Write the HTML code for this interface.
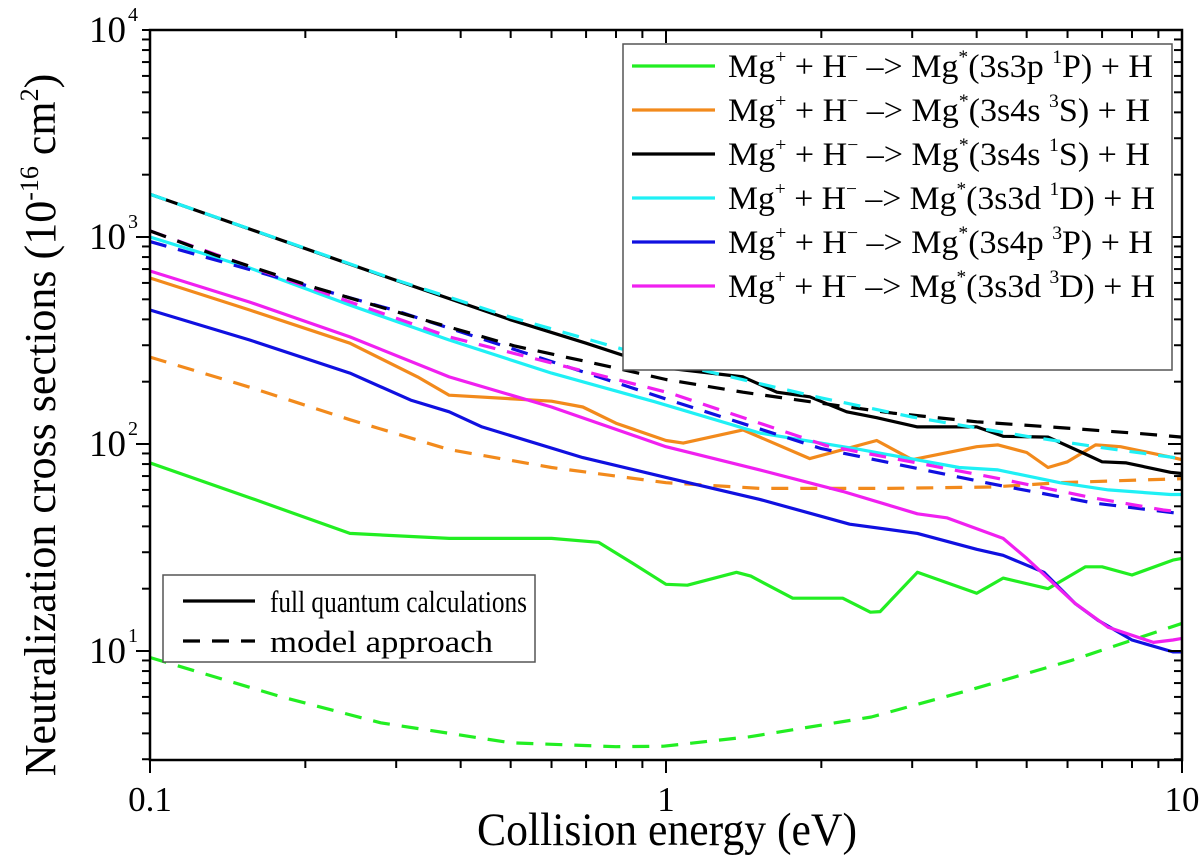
<!DOCTYPE html>
<html><head><meta charset="utf-8"><style>
body{margin:0;background:#fff;}
svg{display:block;font-family:"Liberation Serif",serif;}
</style></head><body>
<svg id="chart" width="1200" height="856" viewBox="0 0 1200 856"></svg>
<script>
const energies = {
 greenF:[0.1,0.156,0.244,0.38,0.6,0.74,0.86,1.0,1.1,1.37,1.46,1.76,2.2,2.49,2.6,3.07,4.0,4.5,5.5,6.5,7,8,9.6,10],
 greenM:[0.1,0.18,0.28,0.5,0.8,0.99,1.45,2.5,3.9,6.1,10],
 orangeF:[0.1,0.156,0.244,0.33,0.38,0.51,0.6,0.69,0.8,1.0,1.08,1.41,1.9,2.56,3.0,4.0,4.4,5.0,5.5,6.0,6.8,7.6,9.6,10],
 orangeM:[0.1,0.156,0.244,0.38,0.6,1.0,1.52,2.7,4.3,5.8,8.3,10],
 blackF:[0.1,0.3,0.5,0.7,0.97,1.41,1.64,1.9,2.24,2.56,3.07,4.0,4.5,5.5,6.4,7.0,7.8,9.5,10],
 blackM:[0.1,0.134,0.21,0.33,0.51,0.8,1.0,1.41,1.9,2.75,4,5.8,8.4,10],
 cyanF:[0.1,0.156,0.244,0.38,0.6,0.95,1.52,2.38,3.7,4.4,5.8,7.2,9.5,10],
 cyanM:[0.1,0.3,0.5,1,1.5,2,3,5,7,10],
 blueF:[0.1,0.156,0.244,0.32,0.38,0.44,0.69,1.0,1.52,2.27,3.07,4.0,4.5,5.4,6.2,6.9,8.0,9.6,10],
 blueM:[0.1,0.3,1,2,4.3,6.7,10],
 magF:[0.1,0.156,0.244,0.38,0.6,1.0,1.52,2.2,3.07,3.5,4.5,5.0,6.2,7.2,8.8,9.6,10],
 magM:[0.1,0.156,0.38,1.02,2.05,4.3,6.7,9.2,10]
};
const values = {
 greenF:[81,55,37,35,35,33.5,26.6,21,20.8,24,23,18,18,15.4,15.5,24,19,22.5,20,25.5,25.5,23.3,27.5,28],
 greenM:[9.3,6.0,4.5,3.6,3.45,3.47,3.85,4.8,6.5,9.0,13.6],
 orangeF:[634,444,307,211,172,165,161,151,126,104,101,117,85,104,84,97,99,91,77,82,99,97,86,84],
 orangeM:[263,188,131,94,77,65,61,61,62,65,67,68],
 blackF:[1610,617,398,307,235,211,178,169,143,134,121,121,109,108,91,82,81,73,72],
 blackM:[1070,818,567,406,297,233,205,178,160,141,128,120,112,108],
 cyanF:[1000,708,469,318,220,160,113,94,77,75,65,60,57,57],
 cyanM:[1610,620,410,250,197,167,135,109,96,85],
 blueF:[444,318,220,163,143,121,86,69,54,41,37,31,29,24,17,14,11.3,9.9,9.9],
 blueM:[950,440,165,95,64,52,46],
 magF:[685,485,329,211,151,97,75,59,46,44,35,28,17,13,11,11.3,11.5],
 magM:[1070,720,329,176,98,69,55,48,47]
};
const seriesKeys = ['orangeM','greenM','greenF','orangeF','blueF','magF','cyanF','blackF','blueM','magM','blackM','cyanM'];
const colors = {green:'#22ee22',orange:'#f28a1c',black:'#000',cyan:'#1ff0f5',blue:'#1010e0',mag:'#f020f0'};
const xTicks = [0.1,1,10];
const xTickLabels = ['0.1','1','10'];
const yExps = [1,2,3,4];

const L=150,R=1182,T=30,B=760;
const X=e=>666+516*Math.log10(e);
const Y=v=>651-207*(Math.log10(v)-1);
const svg=document.getElementById('chart');
const NS='http://www.w3.org/2000/svg';
function mk(tag,attrs,parent){const el=document.createElementNS(NS,tag);for(const k in attrs)el.setAttribute(k,attrs[k]);(parent||svg).appendChild(el);return el;}

const clip=mk('clipPath',{id:'pc'});mk('rect',{x:L,y:T,width:R-L,height:B-T},clip);
const g=mk('g',{'clip-path':'url(#pc)'});


seriesKeys.forEach(k=>{
  const col=colors[k.replace(/[FM]$/,'')];
  const dashed=k.endsWith('M');
  const d=energies[k].map((e,i)=>(i?'L':'M')+X(e).toFixed(1)+','+Y(values[k][i]).toFixed(1)).join('');
  const p=mk('path',{d:d,fill:'none',stroke:col,'stroke-width':3.2,'stroke-linejoin':'round'},g);
  if(dashed)p.setAttribute('stroke-dasharray','17,12');
  
  
});

const frame=mk('rect',{x:L,y:T,width:R-L,height:B-T,fill:'none',stroke:'#000','stroke-width':2.5});



for(let d=-1;d<1;d++){for(let m=1;m<=10;m++){const e=m*Math.pow(10,d);const x=X(e);const major=(m===1||m===10);
  mk('line',{x1:x,x2:x,y1:B,y2:B+(major?13:8),stroke:'#000','stroke-width':2});
  mk('line',{x1:x,x2:x,y1:T,y2:T+(major?13:8),stroke:'#000','stroke-width':2});}}
xTicks.forEach((e,i)=>{const t=mk('text',{x:X(e),y:811,'font-size':35,'text-anchor':'middle'});t.textContent=xTickLabels[i];
  
  });
const ymin=Math.pow(10,1-(B-651)/207);
for(let d=0;d<4;d++){for(let m=1;m<=10;m++){const v=m*Math.pow(10,d);if(v<ymin-1e-9)continue;const y=Y(v);if(y<T-0.5)continue;const major=(m===1);
  mk('line',{x1:L,x2:L-(major?14:8),y1:y,y2:y,stroke:'#000','stroke-width':2});
  mk('line',{x1:R,x2:R-(major?14:8),y1:y,y2:y,stroke:'#000','stroke-width':2});}}
yExps.forEach(p=>{const t=mk('text',{x:126,y:Y(Math.pow(10,p))+12,'font-size':37,'text-anchor':'end'});t.textContent='10';
  
  
  const s=mk('text',{x:128,y:Y(Math.pow(10,p))-9,'font-size':20});s.textContent=String(p);});
</script>
<svg width="1200" height="856" style="position:absolute;left:0;top:0;font-family:'Liberation Serif',serif">
 <text x="477" y="845" font-size="47" textLength="380" lengthAdjust="spacingAndGlyphs">Collision energy (eV)</text>
 <text transform="translate(55,425) rotate(-90)" font-size="44" text-anchor="middle">Neutralization cross sections (10<tspan font-size="26" dy="-17">-16</tspan><tspan dy="17"> cm</tspan><tspan font-size="26" dy="-17">2</tspan><tspan dy="17">)</tspan></text>
 <g>
  <rect x="623" y="44" width="549" height="326" fill="#fff" stroke="#555" stroke-width="1.5"/>
  <g font-size="33">
   <line x1="632" x2="715" y1="66" y2="66" stroke="#22ee22" stroke-width="3.2"/>
   <text x="728" y="77" textLength="425" lengthAdjust="spacingAndGlyphs">Mg<tspan font-size="19" dy="-14">+</tspan><tspan dy="14"> + H</tspan><tspan font-size="19" dy="-14">−</tspan><tspan dy="14"> –&gt; Mg</tspan><tspan font-size="19" dy="-14">*</tspan><tspan dy="14">(3s3p </tspan><tspan font-size="19" dy="-14">1</tspan><tspan dy="14">P) + H</tspan></text>
   <line x1="632" x2="715" y1="110" y2="110" stroke="#f28a1c" stroke-width="3.2"/>
   <text x="728" y="121" textLength="422" lengthAdjust="spacingAndGlyphs">Mg<tspan font-size="19" dy="-14">+</tspan><tspan dy="14"> + H</tspan><tspan font-size="19" dy="-14">−</tspan><tspan dy="14"> –&gt; Mg</tspan><tspan font-size="19" dy="-14">*</tspan><tspan dy="14">(3s4s </tspan><tspan font-size="19" dy="-14">3</tspan><tspan dy="14">S) + H</tspan></text>
   <line x1="632" x2="715" y1="154" y2="154" stroke="#000" stroke-width="3.2"/>
   <text x="728" y="165" textLength="422" lengthAdjust="spacingAndGlyphs">Mg<tspan font-size="19" dy="-14">+</tspan><tspan dy="14"> + H</tspan><tspan font-size="19" dy="-14">−</tspan><tspan dy="14"> –&gt; Mg</tspan><tspan font-size="19" dy="-14">*</tspan><tspan dy="14">(3s4s </tspan><tspan font-size="19" dy="-14">1</tspan><tspan dy="14">S) + H</tspan></text>
   <line x1="632" x2="715" y1="198" y2="198" stroke="#1ff0f5" stroke-width="3.2"/>
   <text x="728" y="209" textLength="427" lengthAdjust="spacingAndGlyphs">Mg<tspan font-size="19" dy="-14">+</tspan><tspan dy="14"> + H</tspan><tspan font-size="19" dy="-14">−</tspan><tspan dy="14"> –&gt; Mg</tspan><tspan font-size="19" dy="-14">*</tspan><tspan dy="14">(3s3d </tspan><tspan font-size="19" dy="-14">1</tspan><tspan dy="14">D) + H</tspan></text>
   <line x1="632" x2="715" y1="242" y2="242" stroke="#1010e0" stroke-width="3.2"/>
   <text x="728" y="253" textLength="425" lengthAdjust="spacingAndGlyphs">Mg<tspan font-size="19" dy="-14">+</tspan><tspan dy="14"> + H</tspan><tspan font-size="19" dy="-14">−</tspan><tspan dy="14"> –&gt; Mg</tspan><tspan font-size="19" dy="-14">*</tspan><tspan dy="14">(3s4p </tspan><tspan font-size="19" dy="-14">3</tspan><tspan dy="14">P) + H</tspan></text>
   <line x1="632" x2="715" y1="286" y2="286" stroke="#f020f0" stroke-width="3.2"/>
   <text x="728" y="297" textLength="427" lengthAdjust="spacingAndGlyphs">Mg<tspan font-size="19" dy="-14">+</tspan><tspan dy="14"> + H</tspan><tspan font-size="19" dy="-14">−</tspan><tspan dy="14"> –&gt; Mg</tspan><tspan font-size="19" dy="-14">*</tspan><tspan dy="14">(3s3d </tspan><tspan font-size="19" dy="-14">3</tspan><tspan dy="14">D) + H</tspan></text>
  </g>
 </g>
 <g>
  <rect x="163" y="575" width="372" height="87" fill="#fff" stroke="#555" stroke-width="1.5"/>
  <line x1="183" x2="255" y1="601" y2="601" stroke="#000" stroke-width="3.2"/>
  <text x="270" y="612" font-size="31" textLength="257" lengthAdjust="spacingAndGlyphs">full quantum calculations</text>
  <line x1="183" x2="255" y1="641" y2="641" stroke="#000" stroke-width="3.2" stroke-dasharray="17,12"/>
  <text x="270" y="652" font-size="31" textLength="223" lengthAdjust="spacingAndGlyphs">model approach</text>
 </g>
</svg>
</body></html>
